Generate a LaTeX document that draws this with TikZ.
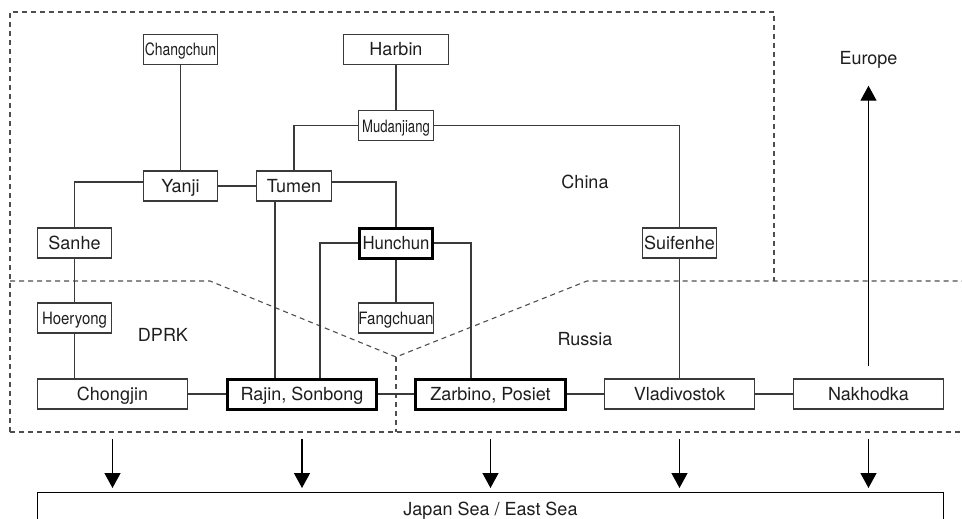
\documentclass[tikz,border=0pt]{standalone}
\usepackage{fontspec}
\setmainfont{TeX Gyre Heros}
\usetikzlibrary{arrows.meta}
\definecolor{edgegray}{HTML}{3A3A3A}
\definecolor{bordergray}{HTML}{4E4E4E}
\definecolor{inkgray}{HTML}{1E1E1E}
% horizontally squeezed label text
\newcommand\narrowtext[2]{\scalebox{#1}[1]{#2}}

\begin{document}
\begin{tikzpicture}[x=1pt,y=-1pt,
  city/.style={draw=edgegray, line width=1.1pt, fill=white, inner sep=0pt,
    minimum height=30pt, text height=17pt, text depth=4pt, text=inkgray,
    font=\fontsize{18}{20}\selectfont},
  smallcity/.style={city, font=\fontsize{17}{19}\selectfont},
  port/.style={city, draw=black, line width=3pt},
  link/.style={draw=edgegray, line width=1.1pt},
  border/.style={draw=bordergray, line width=1.1pt, dash pattern=on 5pt off 4pt},
  flow/.style={draw=black, line width=1.3pt, -{Triangle[width=16pt,length=15pt]}},
  region/.style={text=inkgray, inner sep=0pt, font=\fontsize{18}{20}\selectfont}]

\useasboundingbox (0,0) rectangle (962,519);

% country borders
\draw[border] (10,432) -- (10,12) -- (774,12) -- (774,281);
\draw[border] (10,281) -- (210,281) -- (396,357) -- (587,281) -- (962,281);
\draw[border] (396,357) -- (396,432);
\draw[border] (10,432) -- (962,432);

% region names
\node[region] (china) at (585,182) {China};
\node[region] (dprk) at (163,334.5) {DPRK};
\node[region] (russia) at (585,339) {Russia};
\node[region] (europe) at (868.5,60) {Europe};

% cities
\node[smallcity, minimum width=74pt] (changchun) at (180.5,49.5) {\narrowtext{0.82}{Changchun}};
\node[city, minimum width=105pt] (harbin) at (396,49.5) {Harbin};
\node[smallcity, minimum width=75pt] (mudanjiang) at (396,125.5) {\narrowtext{0.77}{Mudanjiang}};
\node[city, minimum width=74pt] (yanji) at (180.5,186) {Yanji};
\node[city, minimum width=75pt] (tumen) at (294,186) {Tumen};
\node[city, minimum width=74pt] (sanhe) at (74.5,243) {Sanhe};
\node[port, minimum width=73pt] (hunchun) at (396,243) {\narrowtext{0.93}{Hunchun}};
\node[city, minimum width=74pt] (suifenhe) at (679.5,243) {Suifenhe};
\node[smallcity, minimum width=74pt] (hoeryong) at (74.5,318) {\narrowtext{0.88}{Hoeryong}};
\node[smallcity, minimum width=75pt] (fangchuan) at (396,318) {\narrowtext{0.89}{Fangchuan}};
\node[city, minimum width=150pt] (chongjin) at (112.5,394) {Chongjin};
\node[port, minimum width=149pt] (rajin) at (302,394) {Rajin, Sonbong};
\node[port, minimum width=150pt] (zarbino) at (490.5,394) {Zarbino, Posiet};
\node[city, minimum width=150pt] (vladivostok) at (679.5,394) {Vladivostok};
\node[city, minimum width=150pt] (nakhodka) at (868.5,394) {Nakhodka};
\node[city, draw=black, minimum width=906pt, minimum height=32pt, anchor=north] (sea) at (490.5,492) {Japan Sea / East Sea};

% rail and road links
\draw[link] (changchun) -- (yanji);
\draw[link] (harbin) -- (mudanjiang);
\draw[link] (mudanjiang.west) -| (tumen.north);
\draw[link] (mudanjiang.east) -| (suifenhe.north);
\draw[link] (suifenhe) -- (vladivostok);
\draw[link] (yanji) -- (tumen);
\draw[link] ([yshift=4pt]yanji.west) -| (sanhe.north);
\draw[link] ([yshift=4pt]tumen.east) -| (hunchun.north);
\draw[link] (sanhe) -- (hoeryong);
\draw[link] (hoeryong) -- (hoeryong.south |- chongjin.north);
\draw[link] (hunchun) -- (fangchuan);
\draw[link] ([xshift=-19pt]tumen.south) -- ([xshift=-19pt]tumen.south |- rajin.north);
\draw[link] ([xshift=18pt]rajin.north) |- (hunchun.west);
\draw[link] (hunchun.east) -| ([xshift=-19.5pt]zarbino.north);
\draw[link] (chongjin) -- (rajin);
\draw[link] (rajin) -- (zarbino);
\draw[link] (zarbino) -- (vladivostok);
\draw[link] (vladivostok) -- (nakhodka);

% outlets
\draw[flow, shorten >=17pt] ([yshift=12pt]nakhodka.north) -- (nakhodka.north |- europe.south);
\coordinate (seaout) at (0,439);
\foreach \c in {chongjin,rajin,zarbino,vladivostok,nakhodka}
  \draw[flow, shorten >=4pt] (\c.south |- seaout) -- (\c.south |- sea.north);
\end{tikzpicture}
\end{document}
